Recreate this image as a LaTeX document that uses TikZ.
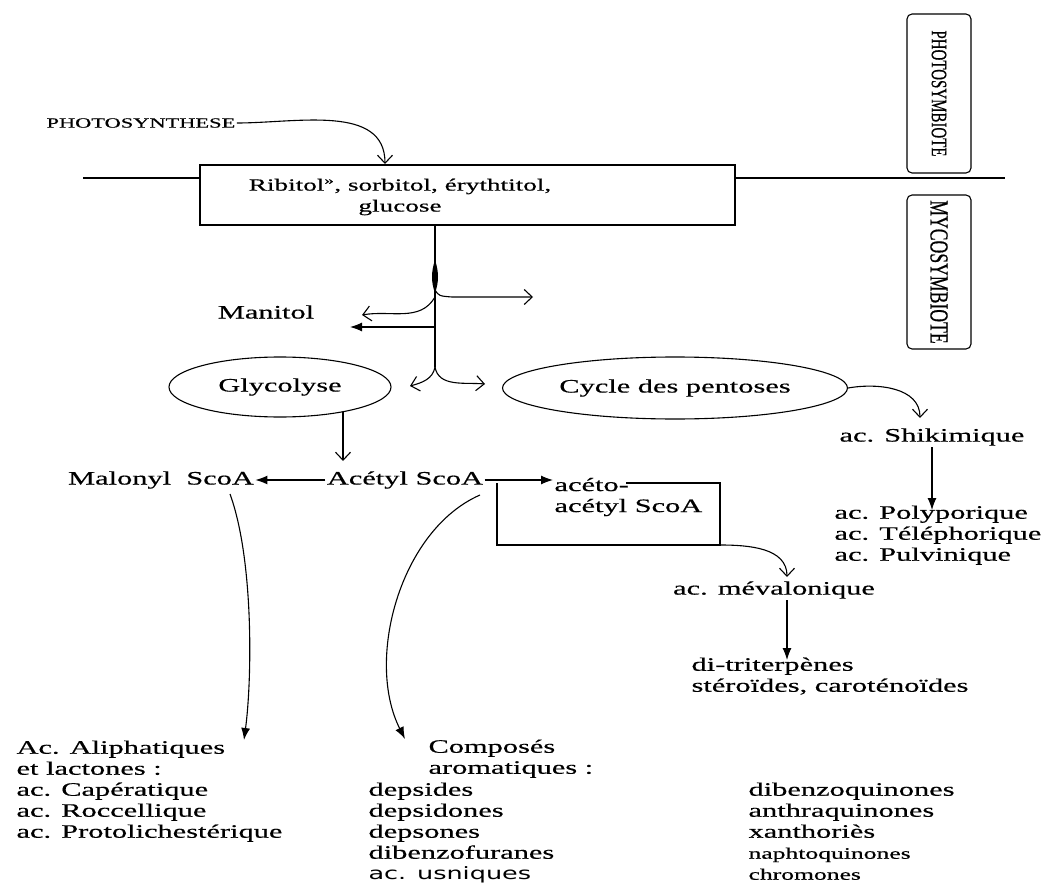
\documentclass[tikz,border=0pt]{standalone}
\usepackage{fontspec}
\setmainfont{Liberation Serif}
\newfontfamily\wfont[FakeStretch=1.6,FakeBold=0.5]{Liberation Serif}
\newfontfamily\nfont[FakeStretch=0.68,FakeBold=0.5]{Liberation Serif}
\newfontfamily\handfont[FakeStretch=1.5]{DejaVu Sans}
\usetikzlibrary{arrows.meta}
\usetikzlibrary{shapes}

\begin{document}
\begin{tikzpicture}
      [x=1pt,y=-1pt,line width=1.1pt,
        every node/.style={inner sep=1pt},
        txt/.style={font=\wfont\fontsize{19}{21}\selectfont},
        box/.style={draw,rectangle,inner sep=0pt},
        side/.style={draw,rectangle,rounded corners=5pt,rotate=-90,minimum height=64,inner sep=0pt},
        blob/.style={draw,ellipse,inner sep=0pt},
        openarr/.style={-{Straight Barb[length=8pt,width=15pt]}},
        fullarr/.style={-{Latex[length=12pt,width=9pt]}}]
  \useasboundingbox (0,0) rectangle (1053,883);
  \node[txt,font=\wfont\fontsize{14}{18}\selectfont,anchor=west] (photo) at (45,123) {PHOTOSYNTHESE};
  \node[box,minimum width=535,minimum height=60] (sugars) at (467.5,195) {};
  \node[txt,font=\wfont\fontsize{17}{21}\selectfont,align=center] (sugartxt) at (400,197)
    {Ribitol\textsuperscript{»}, sorbitol, érythtitol,\\glucose};
  \node[side,minimum width=159,font=\nfont\fontsize{22}{22}\selectfont] (phsym) at (939,93.5) {PHOTOSYMBIOTE};
  \node[side,minimum width=154,font=\nfont\fontsize{26}{26}\selectfont] (mysym) at (939,272) {MYCOSYMBIOTE};
  \coordinate (limL) at (83,178);
  \coordinate (limR) at (1005,178);
  \coordinate (intake) at (385,164);
  \draw (limL) -- (limL -| sugars.west);
  \draw (sugars.east |- limR) -- (limR);
  \draw[openarr] (photo.east) to[out=0,in=90] (intake);

  \coordinate (fork) at (435,367);
  \coordinate (b1) at (435,290);
  \coordinate (b2) at (435,297);
  \coordinate (b3) at (435,327);
  \coordinate (t1) at (533,297);
  \coordinate (t2) at (362,315);
  \coordinate (t3) at (350,327);
  \coordinate (t4) at (410,386);
  \coordinate (t5) at (485,384);
  \draw (sugars.south -| fork) -- (fork);
  \fill (435,260) .. controls (439,272) and (439,282) .. (435,293) .. controls (431,282) and (431,272) .. (435,260);
  \draw[openarr] (b1) .. controls (439,296) .. (452,297) -- (t1);
  \draw[openarr] (b2) to[out=-120,in=10] (t2);
  \draw[fullarr] (b3) -- (t3);
  \draw[openarr] (fork) to[out=-100,in=15] (t4);
  \draw[openarr] (fork) to[out=-80,in=175] (t5);
  \node[txt] (manitol) at (266,312) {Manitol};

  \node[blob,txt,minimum width=222,minimum height=60] (glyco) at (280,387) {Glycolyse};
  \node[blob,txt,minimum width=345,minimum height=62] (pentoses) at (675,388) {Cycle des pentoses};
  \coordinate (g0) at (343,412);
  \coordinate (g1) at (343,461);
  \draw[openarr] (g0) -- (g1);

  \node[txt] (malonyl) at (161,480) {Malonyl\ \ ScoA};
  \node[txt] (acetyl) at (405,480) {Acétyl ScoA};
  \node[txt,anchor=west,align=left] (aceto) at (553,497) {acéto-\\acétyl ScoA};
  \coordinate (bx1) at (497,483);
  \coordinate (bx2) at (720,545);
  \coordinate (bx3) at (626,483);
  \draw[fullarr] (acetyl.west) -- (malonyl.east);
  \draw[fullarr] (acetyl.east) -- (acetyl.east -| aceto.west);
  \draw (bx1) |- (bx2) |- (bx3);

  \node[txt] (shiki) at (932,437) {ac. Shikimique};
  \node[txt,anchor=north west,align=left] (poly) at (833,504)
    {ac. Polyporique\\ac. Téléphorique\\ac. Pulvinique};
  \coordinate (sk) at (920,418);
  \draw[openarr] (pentoses.east) to[out=10,in=90] (sk);
  \draw[fullarr] (shiki.south) -- ([yshift=-6]shiki.south |- poly.north);

  \node[txt] (meva) at (774,590) {ac. mévalonique};
  \node[txt,anchor=north west,align=left] (terp) at (690,656)
    {di-triterpènes\\stéroïdes, caroténoïdes};
  \coordinate (mv) at (787,577);
  \draw[openarr] (bx2) to[out=0,in=90] (mv);
  \draw[fullarr] (meva.south -| mv) -- ([yshift=-4]terp.north -| mv);

  \coordinate (m0) at (230,494);
  \coordinate (m1) at (244,740);
  \coordinate (a0) at (480,495);
  \coordinate (a1) at (405,739);
  \draw[fullarr] (m0) .. controls (254,560) and (252,680) .. (m1);
  \draw[fullarr] (a0) .. controls (400,530) and (365,660) .. (a1);

  \node[txt,anchor=north west,align=left] (aliph) at (15,739)
    {Ac. Aliphatiques\\et lactones :\\ac. Capératique\\ac. Roccellique\\ac. Protolichestérique};
  \node[txt,anchor=north west,align=left] (compo) at (427,738) {Composés\\aromatiques :};
  \node[txt,anchor=north west,align=left] (deps) at (367,781)
    {depsides\\depsidones\\depsones\\dibenzofuranes\\{\handfont\fontsize{17}{21}\selectfont ac. usniques}};
  \node[txt,anchor=north west,align=left] (quin) at (747,781)
    {dibenzoquinones\\anthraquinones\\xanthoriès\\{\fontsize{16}{20}\selectfont naphtoquinones}\\{\fontsize{16}{19}\selectfont chromones}};
\end{tikzpicture}
\end{document}
